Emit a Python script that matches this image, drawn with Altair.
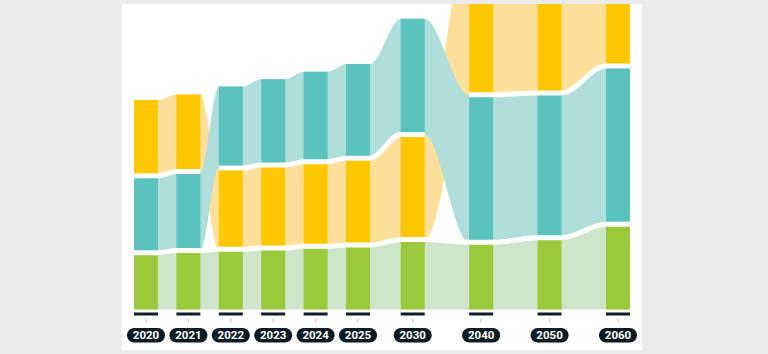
import altair as alt
import pandas as pd

# ---- data (arbitrary units, plot top = 100) ----
years = [2020, 2021, 2022, 2023, 2024, 2025, 2030, 2040, 2050, 2060]
green = [18.6, 19.3, 19.7, 20.1, 20.7, 21.1, 22.9, 22.0, 23.5, 27.9]
teal = [25.2, 25.9, 26.7, 28.1, 29.4, 30.9, 37.9, 48.3, 47.4, 51.8]
yellow = [24.8, 25.2, 26.6, 27.2, 27.7, 28.4, 34.4, 51.0, 50.0, 42.0]
top_series = ["yellow", "yellow", "teal", "teal", "teal", "teal", "teal",
              "yellow", "yellow", "yellow"]
labels = [str(y) for y in years]

# ---- layout / style constants ----
X_DOMAIN = [2020, 2025, 2030, 2060]
X_RANGE = [24, 236, 290.7, 496]
BAR_W = 24
DARK = {"green": "#9bc93c", "teal": "#5bc3be", "yellow": "#ffc700"}
LIGHT = {"green": "#cde6c9", "teal": "#b0dedb", "yellow": "#ffe09b"}


def to_px(v):
    n = len(X_DOMAIN)
    for i in range(n - 1):
        if v <= X_DOMAIN[i + 1] or i == n - 2:
            return X_RANGE[i] + (v - X_DOMAIN[i]) * (X_RANGE[i + 1] - X_RANGE[i]) / (X_DOMAIN[i + 1] - X_DOMAIN[i])


def from_px(p):
    n = len(X_RANGE)
    for i in range(n - 1):
        if p <= X_RANGE[i + 1] or i == n - 2:
            return X_DOMAIN[i] + (p - X_RANGE[i]) * (X_DOMAIN[i + 1] - X_DOMAIN[i]) / (X_RANGE[i + 1] - X_RANGE[i])


rows_area, rows_bar, rows_line = [], [], []
seg_id, prev_top = 0, None
for i, yr in enumerate(years):
    vals = {"green": green[i], "teal": teal[i], "yellow": yellow[i]}
    top = top_series[i]
    mid = "teal" if top == "yellow" else "yellow"
    b1 = green[i]
    b2 = b1 + vals[mid]
    b3 = b2 + vals[top]
    spans = {"green": (0, b1), mid: (b1, b2), top: (b2, b3)}
    cx = to_px(yr)
    xl, xr = from_px(cx - BAR_W / 2), from_px(cx + BAR_W / 2)
    for s, (lo, hi) in spans.items():
        rows_bar.append(dict(year=yr, series=s, lo=lo, hi=hi))
        for xe in (xl, xr):
            rows_area.append(dict(x=xe, series=s, lo=lo, hi=hi))
    if top != prev_top:
        seg_id += 1
        prev_top = top
    for xe in (xl, xr):
        rows_line.append(dict(x=xe, seg="b1", v=b1))
        rows_line.append(dict(x=xe, seg=f"b2_{seg_id}", v=b2))

area_df = pd.DataFrame(rows_area)
bar_df = pd.DataFrame(rows_bar)
line_df = pd.DataFrame(rows_line)
deco_df = pd.DataFrame({"year": years, "label": labels})

xs = alt.Scale(type="linear", domain=X_DOMAIN, range=X_RANGE, nice=False, zero=False, padding=0)
ys = alt.Scale(domain=[0, 100], range=[305.5, 0], nice=False, zero=False, padding=0)

layers = []
for s in ["green", "yellow", "teal"]:
    layers.append(
        alt.Chart(area_df[area_df.series == s])
        .mark_area(color=LIGHT[s], interpolate="monotone", clip=True)
        .encode(x=alt.X("x:Q", scale=xs, axis=None),
                y=alt.Y("lo:Q", scale=ys, axis=None),
                y2="hi:Q")
    )

bars = alt.Chart(bar_df).mark_bar(width=BAR_W, clip=True).encode(
    x=alt.X("year:Q", scale=xs, axis=None),
    y=alt.Y("lo:Q", scale=ys, axis=None),
    y2="hi:Q",
    color=alt.Color("series:N",
                    scale=alt.Scale(domain=list(DARK.keys()), range=list(DARK.values())),
                    legend=None),
)

lines = alt.Chart(line_df).mark_line(
    color="white", strokeWidth=5, interpolate="monotone", clip=True, strokeCap="butt"
).encode(
    x=alt.X("x:Q", scale=xs, axis=None),
    y=alt.Y("v:Q", scale=ys, axis=None),
    detail="seg:N",
)

base = alt.Chart(deco_df).encode(x=alt.X("year:Q", scale=xs, axis=None))
dark_tick = base.mark_bar(width=BAR_W, color="#0d1c25").encode(
    y=alt.value(308.5), y2=alt.value(311.5))
grey_tick = base.mark_rule(color="#bdbdbd", strokeWidth=1).encode(
    y=alt.value(314.5), y2=alt.value(318.5))
pill = base.mark_bar(width=38, cornerRadius=7.5, color="#0b1b24").encode(
    y=alt.value(324), y2=alt.value(338.5))
text = base.mark_text(color="white", font="Roboto", fontWeight="bold",
                      fontSize=11.5, baseline="middle").encode(
    y=alt.value(331.5), text="label:N")

chart = alt.layer(*layers, bars, lines, dark_tick, grey_tick, pill, text).properties(
    width=520, height=346,
    padding={"left": 122, "top": 4, "right": 126, "bottom": 4},
    autosize="none",
    background="#ebebeb",
).configure_view(fill="white", stroke=None)

chart.save("out.html", embed_options={"renderer": "svg", "actions": False})
